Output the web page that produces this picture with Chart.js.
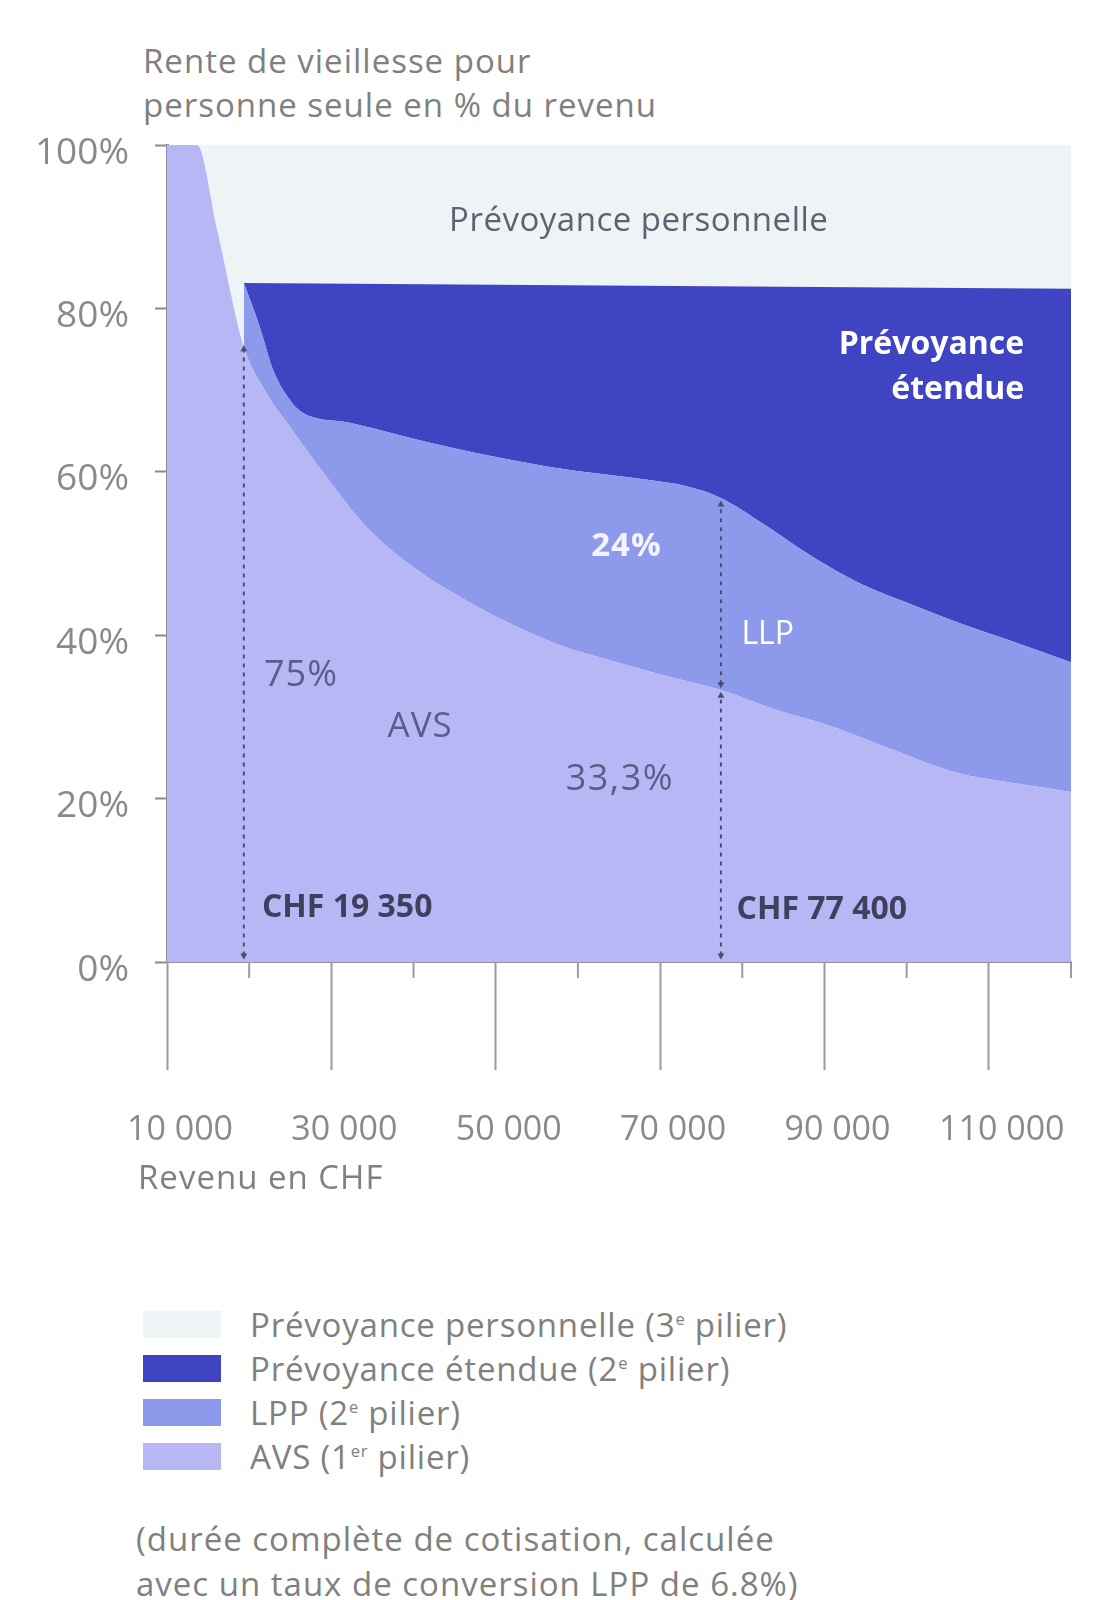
<!DOCTYPE html>
<html lang="fr">
<head>
<meta charset="utf-8">
<title>Rente de vieillesse en % du revenu</title>
<script src="https://cdn.jsdelivr.net/npm/chart.js"></script>
<style>
  body { margin: 0; background: #fff; font-family: 'Open Sans', sans-serif; color: #808080; }
  #page { position: relative; width: 1109px; height: 1600px; overflow: hidden; }
  .title { position: absolute; left: 143px; top: 39px; font-size: 33px; line-height: 44px; letter-spacing: 1px; }
  #chartBox { position: absolute; left: 0; top: 0; width: 1109px; height: 1200px; }
  .xtitle { position: absolute; left: 138px; top: 1155px; font-size: 33px; line-height: 44px; letter-spacing: 1px; }
  #legend { position: absolute; left: 143px; top: 1302px; list-style: none; margin: 0; padding: 0; }
  #legend li { height: 44px; display: flex; align-items: center; font-size: 33px; letter-spacing: 0.8px; }
  #legend .sw { width: 78px; height: 27px; margin-right: 29px; flex: none; }
  #legend sup { font-size: 0.5em; }
  .note { position: absolute; left: 136px; top: 1516px; font-size: 33px; line-height: 45px; letter-spacing: 1px; }
</style>
</head>
<body>
<div id="page">
  <div class="title">Rente de vieillesse pour<br>personne seule en % du revenu</div>
  <div id="chartBox"><canvas id="chart"></canvas></div>
  <div class="xtitle">Revenu en CHF</div>
  <ul id="legend"></ul>
  <div class="note">(durée complète de cotisation, calculée<br>avec un taux de conversion LPP de 6.8%)</div>
</div>
<script>
// axis ticks
const xTickValues = [10000, 30000, 50000, 70000, 90000, 110000];
const xTickLabels = ["10 000", "30 000", "50 000", "70 000", "90 000", "110 000"];
const xMinorTicks = [20000, 40000, 60000, 80000, 100000, 120000];
const yTickValues = [0, 20, 40, 60, 80, 100];
const yTickLabels = ["0%", "20%", "40%", "60%", "80%", "100%"];

// AVS (1er pilier), rente in % of income
const avsIncome = [10000, 13650, 16100, 19350, 22000, 24960, 29000, 34300, 40400, 46000, 52000, 58000, 64000, 70000, 77400, 84000, 91000, 98000, 106000, 113000, 120000];
const avsLevel = [100, 100, 89.6, 75.3, 69.8, 65.5, 59.9, 53.2, 48.0, 44.5, 41.3, 38.7, 36.9, 35.2, 33.3, 30.9, 28.8, 26.1, 23.2, 21.9, 20.8];

// top of LPP (AVS + LPP)
const lppIncome = [19350, 21300, 22900, 24960, 26400, 32250, 44400, 56600, 68700, 73000, 77400, 82600, 87000, 91400, 95500, 100000, 106400, 113000, 120000];
const lppLevel = [83.1, 77.7, 72.5, 68.8, 67.3, 66.0, 63.0, 60.6, 59.0, 58.3, 56.8, 53.6, 50.6, 47.9, 45.8, 44.0, 41.5, 39.2, 36.7];

// top of prévoyance étendue
const etendueIncome = [19350, 120000];
const etendueLevel = [83.1, 82.4];

// prévoyance personnelle goes up to 100%
const persoIncome = [10000, 120000];
const persoLevel = [100, 100];

// dashed markers (income, from %, to %)
const markers = [
    [19350, 0.8, 75.0],
    [77400, 0.8, 32.6],
    [77400, 34.0, 56.0]
];

const legendLabels = [
    "Prévoyance personnelle (3<sup>e</sup> pilier)",
    "Prévoyance étendue (2<sup>e</sup> pilier)",
    "LPP (2<sup>e</sup> pilier)",
    "AVS (1<sup>er</sup> pilier)"
];
const colors = ["#eef3f6", "#3f44c3", "#8d9aec", "#b8b7f6"];

// texts inside the plot (income, %)
const notes = [
    {text: "Prévoyance personnelle", x: 67400, y: 90.6, align: "center", font: "33px 'Open Sans'", ls: "0.5px", color: "#5f6070"},
    {text: "Prévoyance", x: 114300, y: 75.5, align: "right", font: "bold 32px 'Open Sans'", ls: "0px", color: "#ffffff"},
    {text: "étendue", x: 114300, y: 70.0, align: "right", font: "bold 32px 'Open Sans'", ls: "0px", color: "#ffffff"},
    {text: "24%", x: 65900, y: 50.9, align: "center", font: "bold 33px 'Open Sans'", ls: "1px", color: "#f4f4ff"},
    {text: "LLP", x: 83100, y: 40.0, align: "center", font: "32px 'Open Sans'", ls: "0px", color: "#ffffff"},
    {text: "75%", x: 26300, y: 35.0, align: "center", font: "36px 'Open Sans'", ls: "1px", color: "#5a5d86"},
    {text: "AVS", x: 40800, y: 28.8, align: "center", font: "35px 'Open Sans'", ls: "1px", color: "#5a5d86"},
    {text: "33,3%", x: 65100, y: 22.3, align: "center", font: "36px 'Open Sans'", ls: "1.5px", color: "#5a5d86"},
    {text: "CHF 19 350", x: 21550, y: 6.6, align: "left", font: "bold 32px 'Open Sans'", ls: "0px", color: "#3e405e"},
    {text: "CHF 77 400", x: 79300, y: 6.4, align: "left", font: "bold 32px 'Open Sans'", ls: "0px", color: "#3e405e"}
];

function toPoints(xs, ys) {
    return xs.map((v, i) => ({x: v, y: ys[i]}));
}

// legend below the chart
const legend = document.getElementById("legend");
legendLabels.forEach((label, i) => {
    const li = document.createElement("li");
    li.innerHTML = `<span class="sw" style="background:${colors[i]}"></span><span>${label}</span>`;
    legend.appendChild(li);
});

const notesPlugin = {
    id: "notes",
    afterDatasetsDraw(chart) {
        const {ctx, scales: {x, y}} = chart;
        ctx.save();
        ctx.textBaseline = "middle";
        notes.forEach(n => {
            ctx.font = n.font;
            ctx.letterSpacing = n.ls;
            ctx.fillStyle = n.color;
            ctx.textAlign = n.align;
            ctx.fillText(n.text, x.getPixelForValue(n.x), y.getPixelForValue(n.y));
        });
        ctx.restore();
    },
    afterDraw(chart) {
        // short minor ticks under the x axis
        const {ctx, scales: {x, y}} = chart;
        ctx.save();
        ctx.strokeStyle = "#9b9b9b";
        ctx.lineWidth = 2;
        xMinorTicks.forEach(v => {
            const px = x.getPixelForValue(v);
            ctx.beginPath();
            ctx.moveTo(px, y.bottom);
            ctx.lineTo(px, y.bottom + 16);
            ctx.stroke();
        });
        ctx.restore();
    }
};

const areaBase = {
    borderWidth: 0,
    pointRadius: 0,
    cubicInterpolationMode: "monotone",
    order: 1
};

const markerSets = markers.map(m => ({
    data: [{x: m[0], y: m[1]}, {x: m[0], y: m[2]}],
    borderColor: "#4b4d70",
    borderWidth: 2,
    borderDash: [4, 5],
    pointRadius: 4,
    pointStyle: "triangle",
    pointRotation: [180, 0],
    pointBackgroundColor: "#4b4d70",
    pointBorderWidth: 0,
    fill: false,
    order: 0
}));

Chart.defaults.font.family = "'Open Sans', sans-serif";

const myChart = new Chart(document.getElementById("chart"), {
    type: "line",
    data: {
        datasets: [
            {...areaBase, label: "AVS", data: toPoints(avsIncome, avsLevel), backgroundColor: colors[3], fill: "origin"},
            {...areaBase, label: "LPP", data: toPoints(lppIncome, lppLevel), backgroundColor: colors[2], fill: "-1"},
            {...areaBase, label: "Prévoyance étendue", data: toPoints(etendueIncome, etendueLevel), backgroundColor: colors[1], fill: "-1", cubicInterpolationMode: "default", tension: 0},
            {...areaBase, label: "Prévoyance personnelle", data: toPoints(persoIncome, persoLevel), backgroundColor: colors[0], fill: "origin", cubicInterpolationMode: "default", tension: 0},
            ...markerSets
        ]
    },
    options: {
        responsive: true,
        maintainAspectRatio: false,
        animation: false,
        events: [],
        layout: {padding: {top: 145, right: 38, left: 0, bottom: 0}},
        plugins: {
            legend: {display: false},
            tooltip: {enabled: false}
        },
        scales: {
            x: {
                type: "linear",
                min: 10000,
                max: 120000,
                z: 1,
                afterBuildTicks: s => { s.ticks = xTickValues.map(v => ({value: v})); },
                afterFit: s => { s.height = 238; },
                grid: {drawOnChartArea: false, tickLength: 108, tickColor: "#9b9b9b", tickWidth: 2},
                border: {color: "#8d90a6", width: 2},
                ticks: {
                    padding: 40,
                    labelOffset: 13,
                    color: "#8a8a8a",
                    font: {size: 34},
                    maxRotation: 0,
                    autoSkip: false,
                    callback: (v, i) => xTickLabels[i]
                }
            },
            y: {
                min: 0,
                max: 100,
                z: 1,
                afterBuildTicks: s => { s.ticks = yTickValues.map(v => ({value: v})); },
                afterFit: s => { s.width = 167; },
                grid: {drawOnChartArea: false, tickLength: 12, tickColor: "#8a8a8a", tickWidth: 2},
                border: {color: "#8d90a6", width: 3},
                ticks: {
                    padding: 26,
                    labelOffset: 8,
                    color: "#8a8a8a",
                    font: {size: 37},
                    callback: (v, i) => yTickLabels[i]
                }
            }
        }
    },
    plugins: [notesPlugin]
});
</script>
</body>
</html>
